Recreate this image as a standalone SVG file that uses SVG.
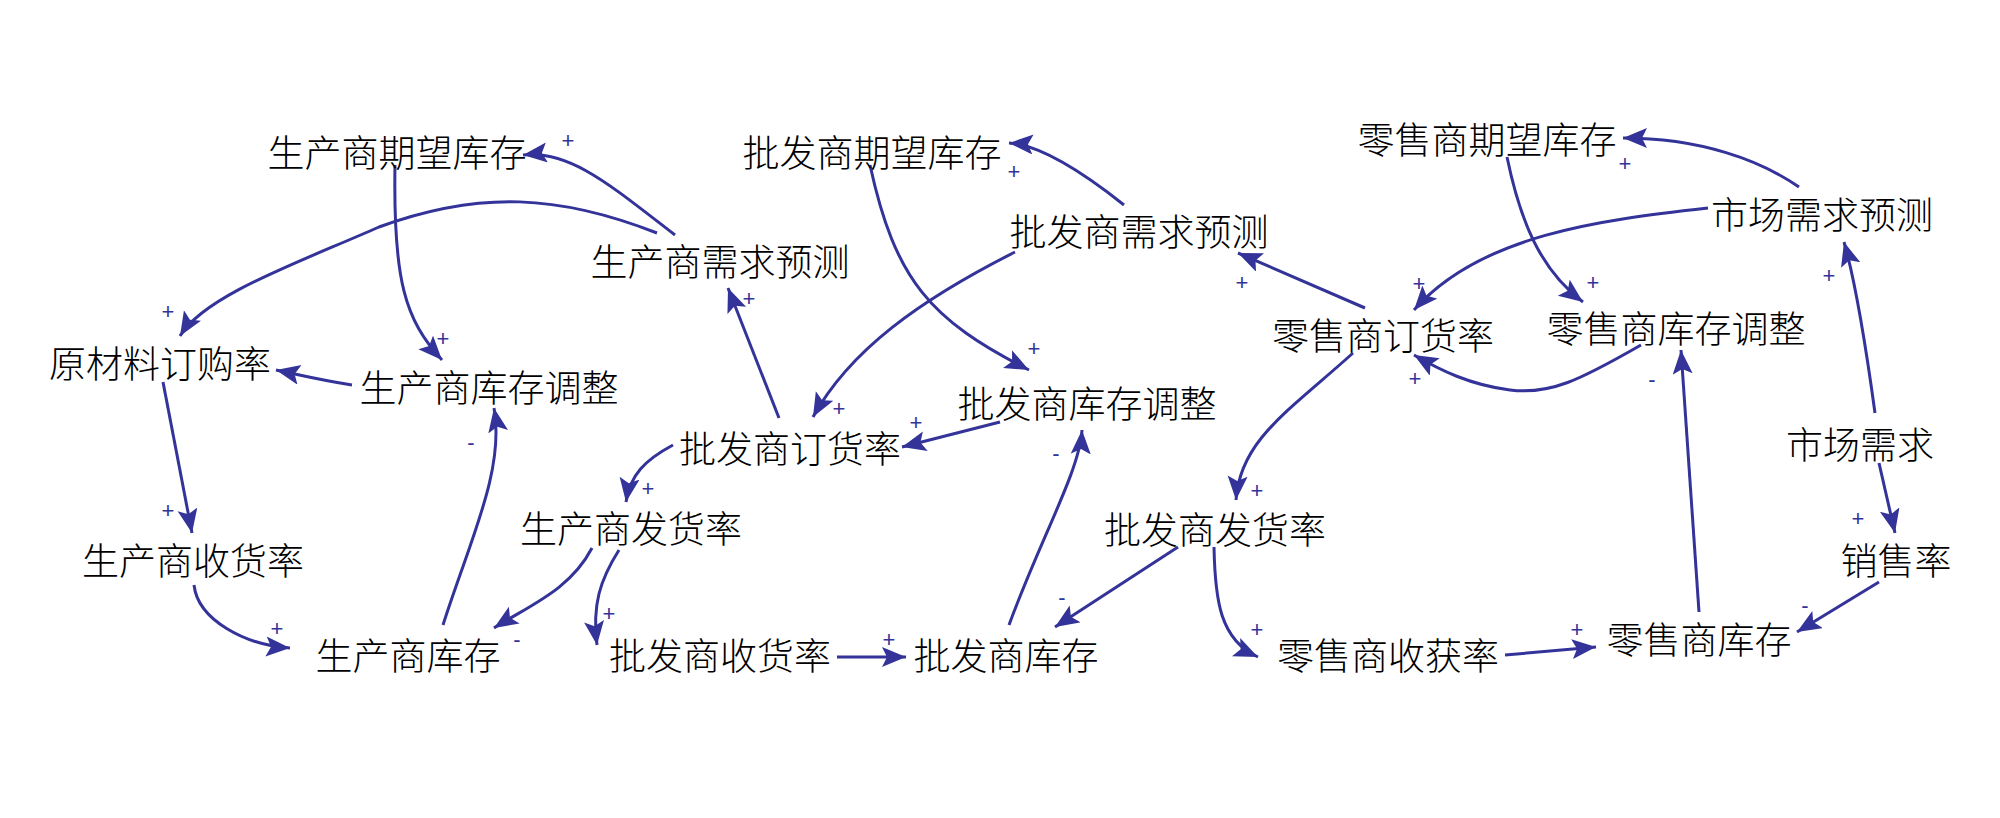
<svg xmlns="http://www.w3.org/2000/svg" width="2000" height="818" viewBox="0 0 2000 818">
<style>
.n{font-family:"Noto Sans CJK SC","Noto Sans CJK JP",sans-serif;font-size:37px;fill:#000;text-anchor:middle;dominant-baseline:central;font-weight:300}
.c path{fill:none;stroke:#333399;stroke-width:3;marker-end:url(#ah)}
.s{font-family:"Liberation Sans",Arial,sans-serif;font-size:22px;fill:#333399;text-anchor:middle;dominant-baseline:central}
</style>
<defs>
<marker id="ah" markerUnits="userSpaceOnUse" markerWidth="28" markerHeight="22" refX="24" refY="10" orient="auto">
<path d="M0,0 L24,10 L0,20 L5,10 z" fill="#333399"/>
</marker>
</defs>
<rect width="2000" height="818" fill="#fff"/>
<g id="connectors" class="c">
<path d="M675,235 C610,185 570,150 523,155"/>
<path d="M657,233 C560,195 480,190 379,227 C300,262 205,295 180,336"/>
<path d="M395,165 C393,280 405,320 442,360"/>
<path d="M352,385 C320,380 300,375 276,370"/>
<path d="M163,382 L192,533"/>
<path d="M194,585 C198,620 245,645 290,648"/>
<path d="M443,625 C470,540 505,470 494,408"/>
<path d="M592,548 C570,590 530,605 494,628"/>
<path d="M619,550 C600,580 592,605 597,645"/>
<path d="M673,445 C645,460 630,475 626,502"/>
<path d="M779,418 L728,288"/>
<path d="M1015,252 C920,300 850,350 813,417"/>
<path d="M1124,205 C1080,170 1040,145 1009,143"/>
<path d="M870,165 C895,280 930,320 1029,370"/>
<path d="M1000,422 C960,432 930,440 902,447"/>
<path d="M837,657 L906,657"/>
<path d="M1009,625 C1040,540 1080,470 1082,430"/>
<path d="M1178,547 L1055,627"/>
<path d="M1214,547 C1215,600 1220,640 1258,657"/>
<path d="M1505,655 L1596,647"/>
<path d="M1699,612 L1681,350"/>
<path d="M1641,345 C1580,380 1550,395 1510,390 C1470,385 1440,370 1414,355"/>
<path d="M1507,157 C1520,220 1540,270 1583,302"/>
<path d="M1799,187 C1760,160 1700,138 1623,138"/>
<path d="M1708,208 C1600,220 1480,235 1414,310"/>
<path d="M1365,308 L1238,253"/>
<path d="M1353,353 C1290,410 1240,440 1236,500"/>
<path d="M1875,413 C1865,340 1855,280 1844,242"/>
<path d="M1879,463 L1895,533"/>
<path d="M1879,582 L1797,632"/>
</g>
<g id="signs">
<text class="s" x="568" y="140">+</text>
<text class="s" x="168" y="311">+</text>
<text class="s" x="443" y="338">+</text>
<text class="s" x="471" y="442">-</text>
<text class="s" x="168" y="510">+</text>
<text class="s" x="277" y="628">+</text>
<text class="s" x="517" y="639">-</text>
<text class="s" x="648" y="488">+</text>
<text class="s" x="609" y="613">+</text>
<text class="s" x="1014" y="171">+</text>
<text class="s" x="749" y="298">+</text>
<text class="s" x="1242" y="282">+</text>
<text class="s" x="1034" y="348">+</text>
<text class="s" x="839" y="408">+</text>
<text class="s" x="916" y="422">+</text>
<text class="s" x="1056" y="453">-</text>
<text class="s" x="1062" y="597">-</text>
<text class="s" x="889" y="639">+</text>
<text class="s" x="1257" y="490">+</text>
<text class="s" x="1257" y="629">+</text>
<text class="s" x="1625" y="163">+</text>
<text class="s" x="1419" y="283">+</text>
<text class="s" x="1593" y="282">+</text>
<text class="s" x="1415" y="378">+</text>
<text class="s" x="1652" y="379">-</text>
<text class="s" x="1829" y="275">+</text>
<text class="s" x="1858" y="518">+</text>
<text class="s" x="1805" y="605">-</text>
<text class="s" x="1577" y="629">+</text>
</g>
<g id="n1"><text class="n" x="397" y="151">生产商期望库存</text></g>
<g id="n2"><text class="n" x="872" y="151">批发商期望库存</text></g>
<g id="n3"><text class="n" x="1487" y="138">零售商期望库存</text></g>
<g id="n4"><text class="n" x="720" y="260">生产商需求预测</text></g>
<g id="n5"><text class="n" x="1139" y="230">批发商需求预测</text></g>
<g id="n6"><text class="n" x="1822" y="213">市场需求预测</text></g>
<g id="n7"><text class="n" x="160" y="362">原材料订购率</text></g>
<g id="n8"><text class="n" x="489" y="386">生产商库存调整</text></g>
<g id="n9"><text class="n" x="1383" y="334">零售商订货率</text></g>
<g id="n10"><text class="n" x="1676" y="327">零售商库存调整</text></g>
<g id="n11"><text class="n" x="1087" y="402">批发商库存调整</text></g>
<g id="n12"><text class="n" x="790" y="447">批发商订货率</text></g>
<g id="n13"><text class="n" x="1860" y="443">市场需求</text></g>
<g id="n14"><text class="n" x="193" y="559">生产商收货率</text></g>
<g id="n15"><text class="n" x="631" y="527">生产商发货率</text></g>
<g id="n16"><text class="n" x="1215" y="528">批发商发货率</text></g>
<g id="n17"><text class="n" x="1896" y="559">销售率</text></g>
<g id="n18"><text class="n" x="408" y="654">生产商库存</text></g>
<g id="n19"><text class="n" x="720" y="654">批发商收货率</text></g>
<g id="n20"><text class="n" x="1006" y="654">批发商库存</text></g>
<g id="n21"><text class="n" x="1388" y="654">零售商收获率</text></g>
<g id="n22"><text class="n" x="1699" y="638">零售商库存</text></g>
</svg>
